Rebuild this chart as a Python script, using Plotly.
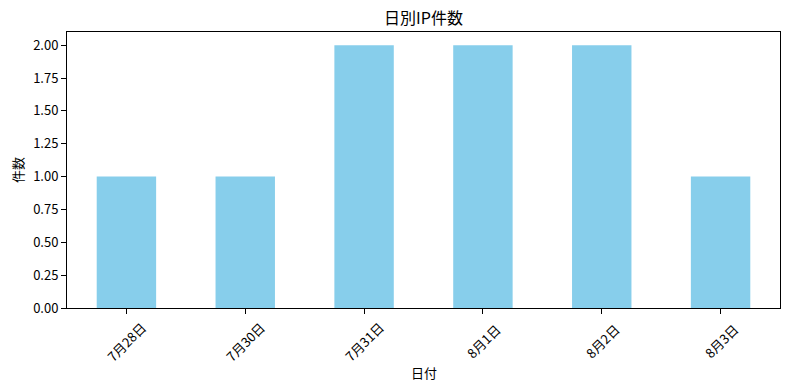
import plotly.graph_objects as go

categories = ["7月28日", "7月30日", "7月31日", "8月1日", "8月2日", "8月3日"]
counts = [1, 1, 2, 2, 2, 1]
y_ticks = [0, 0.25, 0.5, 0.75, 1.0, 1.25, 1.5, 1.75, 2.0]

FONT = "Noto Sans CJK JP"
W, H = 790, 390
L, R, T, B = 67, 10, 32, 82
plot_h = H - T - B
plot_w = W - L - R

fig = go.Figure()
fig.add_trace(go.Bar(x=categories, y=counts, marker_color="#87CEEB",
                     marker_line_width=0, width=0.5))

def py(px):
    # pixel y (from top) -> paper coordinate
    return (H - B - px) / plot_h

annotations = []
for c in categories:
    annotations.append(dict(x=c, xref="x", y=py(341), yref="paper", text=c,
                            textangle=-45, showarrow=False, xanchor="center",
                            yanchor="middle", font=dict(family=FONT, size=13, color="black")))
annotations.append(dict(x=0.5, xref="paper", y=py(372), yref="paper", text="日付",
                        showarrow=False, xanchor="center", yanchor="middle",
                        font=dict(family=FONT, size=13, color="black")))
annotations.append(dict(x=(17 - L) / plot_w, xref="paper", y=py(170), yref="paper", text="件数",
                        textangle=-90, showarrow=False, xanchor="center", yanchor="middle",
                        font=dict(family=FONT, size=13, color="black")))

fig.update_layout(
    width=W, height=H,
    margin=dict(l=L, r=R, t=T, b=B),
    paper_bgcolor="white", plot_bgcolor="white",
    showlegend=False,
    font=dict(family=FONT, size=13, color="black"),
    title=dict(text="日別IP件数", x=0.5 + 0 * 1, xref="paper", xanchor="center",
               y=1 - 18 / H, yanchor="middle", yref="container",
               font=dict(family=FONT, size=16, color="black")),
    annotations=annotations,
    xaxis=dict(type="category", range=[-0.5, len(categories) - 0.5],
               showline=True, linecolor="black", linewidth=1, mirror=True,
               ticks="outside", ticklen=5, tickcolor="black", tickwidth=1,
               showticklabels=False, showgrid=False, zeroline=False),
    yaxis=dict(range=[0, 2.1], tickvals=y_ticks, tickformat=".2f",
               showline=True, linecolor="black", linewidth=1, mirror=True,
               ticks="outside", ticklen=5, tickcolor="black", tickwidth=1,
               showgrid=False, zeroline=False,
               tickfont=dict(family=FONT, size=13, color="black")),
)

fig.write_html("out.html")
